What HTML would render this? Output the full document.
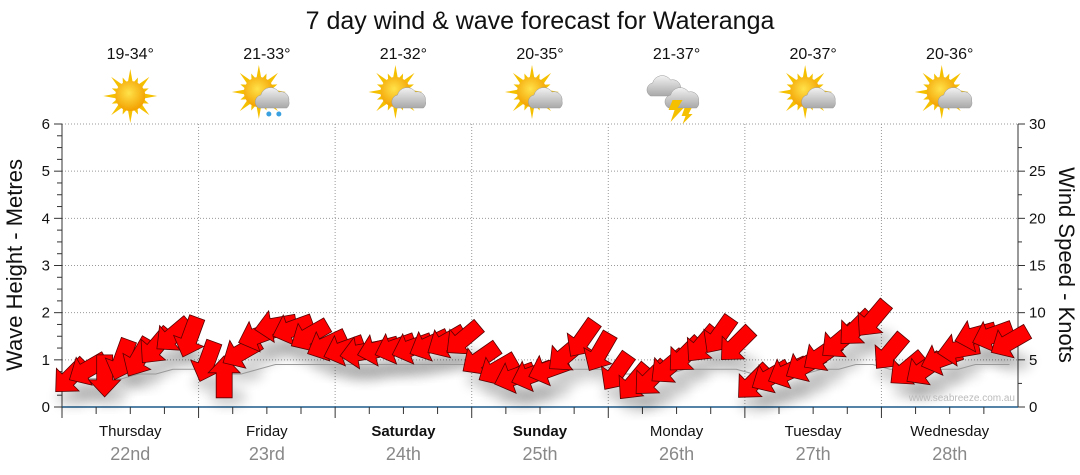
<!DOCTYPE html>
<html><head><meta charset="utf-8">
<style>
html,body{margin:0;padding:0;background:#fff;}
svg{display:block;font-family:"Liberation Sans",sans-serif;}
</style></head>
<body>
<svg id="chart" width="1080" height="475" viewBox="0 0 1080 475">
<defs>
<filter id="sh" x="-50%" y="-50%" width="200%" height="200%"><feGaussianBlur stdDeviation="6"/></filter>
<radialGradient id="sun" cx="45%" cy="40%" r="60%"><stop offset="0" stop-color="#ffe24a"/><stop offset="1" stop-color="#f3a000"/></radialGradient>
<linearGradient id="cloud" x1="0" y1="0" x2="0" y2="1"><stop offset="0" stop-color="#f2f2f2"/><stop offset="1" stop-color="#a8a8a8"/></linearGradient>
</defs>
<text x="540" y="29" text-anchor="middle" font-size="25" fill="#111">7 day wind &amp; wave forecast for Wateranga</text>
<g id="grid"></g>
<g id="icons"></g>
<g id="axes"></g>
<g id="shadows"></g>
<polyline id="wave" fill="none" stroke="#999" stroke-width="1"/>
<g id="arrows"></g>
<text x="1015" y="401" text-anchor="end" font-size="10" fill="#bbb">www.seabreeze.com.au</text>
<text transform="translate(22,265) rotate(-90)" text-anchor="middle" font-size="22" fill="#111">Wave Height - Metres</text>
<text transform="translate(1059,265) rotate(90)" text-anchor="middle" font-size="22" fill="#111">Wind Speed - Knots</text>
</svg>
<script>
const days = ["Thursday","Friday","Saturday","Sunday","Monday","Tuesday","Wednesday"];
const dates = ["22nd","23rd","24th","25th","26th","27th","28th"];
const boldDays = [false,false,true,true,false,false,false];
const temps = ["19-34°","21-33°","21-32°","20-35°","21-37°","20-37°","20-36°"];
const iconTypes = ["sun","rain","cloud","cloud","storm","cloud","cloud"];
const waveTicks = [0,1,2,3,4,5,6];
const windTicks = [0,5,10,15,20,25,30];
const windKnots = [3.2,4.0,3.3,5.0,5.2,6.4,7.6,7.4,
 4.8,3.2,5.8,7.6,8.6,8.3,7.6,6.6,
 6.1,5.8,6.1,6.3,6.3,6.6,6.9,7.2,
 5.1,4.0,3.2,3.4,4.0,5.5,7.2,5.8,
 3.7,2.6,3.0,4.2,5.5,6.6,7.6,6.6,
 2.6,3.2,3.7,4.4,5.5,6.9,8.3,9.3,
 5.8,4.0,4.0,5.1,6.1,7.6,7.6,6.9];
const windDir = [225,240,180,200,210,220,230,200,
 200,0,240,250,260,250,240,245,
 250,260,255,250,250,245,240,230,
 235,240,250,250,250,230,215,210,
 215,220,225,230,225,220,215,225,
 225,240,245,240,235,230,225,220,
 220,230,235,250,260,255,250,240];
const waveM = [0.7,0.6,0.6,0.6,0.7,0.7,0.8,0.8,0.8,0.7,0.7,0.8,0.9,0.9,0.9,0.9,
 0.9,0.9,0.9,0.9,0.9,0.9,0.9,0.9,0.8,0.8,0.7,0.7,0.7,0.8,0.8,0.8,
 0.7,0.7,0.7,0.7,0.8,0.8,0.8,0.8,0.7,0.7,0.7,0.7,0.8,0.8,0.9,0.9,
 0.8,0.8,0.8,0.8,0.8,0.9,0.9,0.9];

const X0=62,X1=1018,Y0=407,Y1=124,NS="http://www.w3.org/2000/svg";
const dayW=(X1-X0)/days.length;
const xT=i=>X0+(i+0.5)*(X1-X0)/windKnots.length;
const yW=m=>Y0-(m/6)*(Y0-Y1);
const yK=k=>Y0-(k/30)*(Y0-Y1);
function mk(tag,attrs,parent){const e=document.createElementNS(NS,tag);for(const k in attrs)e.setAttribute(k,attrs[k]);parent.appendChild(e);return e;}
const grid=document.getElementById('grid'),axes=document.getElementById('axes'),icons=document.getElementById('icons');
waveTicks.forEach(t=>{
 if(t>0){const l=mk('line',{x1:X0,x2:X1,y1:yW(t),y2:yW(t),stroke:'#999','stroke-dasharray':'1,2'},grid);}
 const tx=mk('text',{x:50,y:yW(t)+5,'text-anchor':'end','font-size':15,fill:'#111'},axes);tx.textContent=t;
 
});
for(let m=0;m<=6;m+=0.25){mk('line',{x1:m%1?57:54,x2:X0,y1:yW(m),y2:yW(m),stroke:'#333'},axes);}
windTicks.forEach(t=>{
 const tx=mk('text',{x:1029,y:yK(t)+5,'font-size':15,fill:'#111'},axes);tx.textContent=t;
 
});
for(let k=0;k<=30;k+=2.5){mk('line',{x1:X1,x2:k%5?X1+4:X1+7,y1:yK(k),y2:yK(k),stroke:'#333'},axes);}
mk('line',{x1:X0,x2:X0,y1:Y1,y2:Y0,stroke:'#333'},axes);
mk('line',{x1:X1,x2:X1,y1:Y1,y2:Y0,stroke:'#333'},axes);
mk('line',{x1:X0,x2:X1,y1:Y0,y2:Y0,stroke:'#1d5a8a','stroke-width':1.5},axes);
days.forEach((d,i)=>{
 const xs=X0+i*dayW,cx=xs+dayW/2;
 if(i>0){const l=mk('line',{x1:xs,x2:xs,y1:Y1,y2:Y0,stroke:'#999','stroke-dasharray':'1,2'},grid);}
 for(let q=0;q<4;q++){mk('line',{x1:xs+q*dayW/4,x2:xs+q*dayW/4,y1:Y0,y2:Y0+(q?7:11),stroke:'#333'},axes);}
 const t1=mk('text',{x:cx,y:436,'text-anchor':'middle','font-size':15,fill:'#111','font-weight':boldDays[i]?'bold':'normal'},axes);t1.textContent=d;
 
 const t2=mk('text',{x:cx,y:460,'text-anchor':'middle','font-size':18,fill:'#888'},axes);t2.textContent=dates[i];
 
 const t3=mk('text',{x:cx,y:59,'text-anchor':'middle','font-size':16,fill:'#111'},icons);t3.textContent=temps[i];
 
 const g=mk('g',{transform:`translate(${cx},96)`},icons);
 
 const ty=iconTypes[i];
 if(ty!=='storm'){
  const sx=ty==='sun'?0:-8,sy=ty==='sun'?0:-4;
  for(let a=0;a<16;a++){const ang=a*Math.PI/8,r=a%2?20:27;
   mk('polygon',{points:`${sx+Math.cos(ang)*r},${sy+Math.sin(ang)*r} ${sx+Math.cos(ang+0.2)*13},${sy+Math.sin(ang+0.2)*13} ${sx+Math.cos(ang-0.2)*13},${sy+Math.sin(ang-0.2)*13}`,fill:'#f5c000'},g);}
  mk('circle',{cx:sx,cy:sy,r:15,fill:'url(#sun)'},g);
 }
 if(ty==='storm'){
  mk('path',{d:`M-26,0 a7,7 0 0 1 2,-13 a10,10 0 0 1 18,-3 a8,8 0 0 1 10,9 a7,7 0 0 1 -2,7 z`,fill:'url(#cloud)',stroke:'#999','stroke-width':0.5},g);
  mk('path',{d:`M-8,12 a7,7 0 0 1 2,-13 a10,10 0 0 1 18,-3 a8,8 0 0 1 10,9 a7,7 0 0 1 -2,7 z`,fill:'url(#cloud)',stroke:'#999','stroke-width':0.5},g);
  mk('polygon',{points:'-4,4 6,4 1,12 7,12 -6,26 -2,14 -8,14',fill:'#f5c000'},g);
  mk('polygon',{points:'8,12 15,12 12,18 16,18 6,28 9,20 5,20',fill:'#f5c000'},g);
 } else if(ty!=='sun'){
  mk('path',{d:`M-8,12 a7,7 0 0 1 2,-13 a10,10 0 0 1 18,-3 a8,8 0 0 1 10,9 a7,7 0 0 1 -2,7 z`,fill:'url(#cloud)',stroke:'#999','stroke-width':0.5},g);
  if(ty==='rain'){mk('circle',{cx:2,cy:18,r:2.5,fill:'#3aa0e0'},g);mk('circle',{cx:12,cy:18,r:2.5,fill:'#3aa0e0'},g);}
 }
});
const wave=document.getElementById('wave');
wave.setAttribute('points',waveM.map((m,i)=>`${xT(i)},${yW(m)}`).join(' '));
const arrows=document.getElementById('arrows'),shadows=document.getElementById('shadows');
const shape="M21,0 L4,-16 L4,-8 L-21,-8 L-21,8 L4,8 L4,16 Z";
windKnots.forEach((k,i)=>{
 const x=xT(i),y=yK(k),rot=windDir[i]-90;
 const s=mk('ellipse',{cx:x+4,cy:y+20,rx:18,ry:9,fill:'#000',opacity:0.2,filter:'url(#sh)'},shadows);
 
 const a=mk('path',{d:shape,transform:`translate(${x},${y}) rotate(${rot})`,fill:'#ff0000',stroke:'#5a0000','stroke-width':0.8,'stroke-linejoin':'miter'},arrows);
 
});
</script>
</body></html>
